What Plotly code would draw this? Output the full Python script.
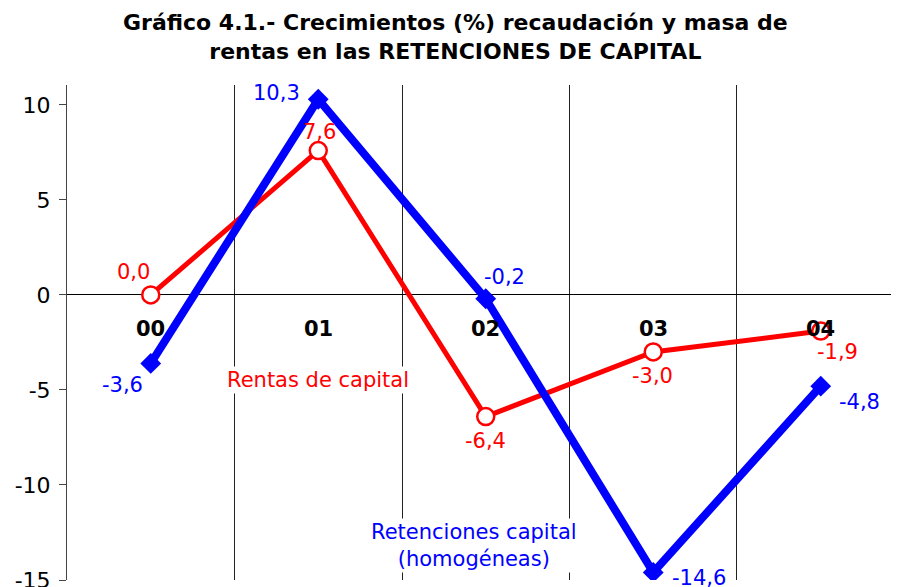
import plotly.graph_objects as go

categories = ["00", "01", "02", "03", "04"]
rentas = [0.0, 7.6, -6.4, -3.0, -1.9]
retenciones = [-3.6, 10.3, -0.2, -14.6, -4.8]
y_ticks = [10, 5, 0, -5, -10, -15]

# label offsets in pixels (style only), in the same order as the data
rentas_off = [(-17, 23), (1, 19), (0, -24), (-1, -24), (17, -21)]
ret_off = [(-28, -22), (-42, 6), (19, 22), (46, -6), (39, -16)]

RED = "#FF0000"
BLUE = "#0000FF"
FONT = "DejaVu Sans"
FS = 21

xs = list(range(len(categories)))

fig = go.Figure()
fig.add_trace(go.Scatter(
    x=xs, y=rentas, mode="lines+markers", name="Rentas de capital",
    line=dict(color=RED, width=5),
    marker=dict(symbol="circle", size=17, color="white", line=dict(color=RED, width=2.5)),
))
fig.add_trace(go.Scatter(
    x=xs, y=retenciones, mode="lines+markers", name="Retenciones capital",
    line=dict(color=BLUE, width=8),
    marker=dict(symbol="diamond", size=16, color=BLUE),
))

def fmt(v):
    return f"{v:.1f}".replace(".", ",")

ann = []
for i, v in enumerate(rentas):
    dx, dy = rentas_off[i]
    ann.append(dict(x=xs[i], y=v, text=fmt(v), showarrow=False, xshift=dx, yshift=dy,
                    font=dict(family=FONT, size=FS, color=RED)))
for i, v in enumerate(retenciones):
    dx, dy = ret_off[i]
    ann.append(dict(x=xs[i], y=v, text=fmt(v), showarrow=False, xshift=dx, yshift=dy,
                    font=dict(family=FONT, size=FS, color=BLUE)))
for i, c in enumerate(categories):
    ann.append(dict(x=xs[i], y=-1.8, text=f"<b>{c}</b>", showarrow=False,
                    font=dict(family=FONT, size=FS, color="black")))
ann.append(dict(x=1.0, y=-4.5, text="Rentas de capital", showarrow=False, bgcolor="white",
                font=dict(family=FONT, size=FS, color=RED)))
ann.append(dict(x=1.93, y=-13.2, text="Retenciones capital<br>(homogéneas)", showarrow=False,
                bgcolor="white", font=dict(family=FONT, size=FS, color=BLUE)))
# title
ann.append(dict(xref="paper", yref="paper", x=0.462, y=1.097, xanchor="center", yanchor="middle",
                showarrow=False,
                text="<b>Gráfico 4.1.- Crecimientos (%) recaudación y masa de<br>rentas en las RETENCIONES DE CAPITAL</b>",
                font=dict(family=FONT, size=22, color="black")))

fig.update_layout(
    width=899, height=587,
    margin=dict(l=59, r=0, t=77, b=15),
    paper_bgcolor="white", plot_bgcolor="white",
    showlegend=False,
    annotations=ann,
    xaxis=dict(range=[-0.5, 4.515], tickvals=[0.5, 1.5, 2.5, 3.5], showticklabels=False,
               showgrid=True, gridcolor="#222", gridwidth=1, zeroline=False, ticks=""),
    yaxis=dict(range=[-15, 11.05], tickvals=y_ticks, ticktext=[str(t) for t in y_ticks],
               showgrid=False, zeroline=True, zerolinecolor="black", zerolinewidth=1,
               showline=True, linecolor="#444", linewidth=1, ticks="outside", ticklen=7,
               tickcolor="#444", ticklabelstandoff=4,
               tickfont=dict(family=FONT, size=22, color="black")),
)

fig.write_html("out.html")
